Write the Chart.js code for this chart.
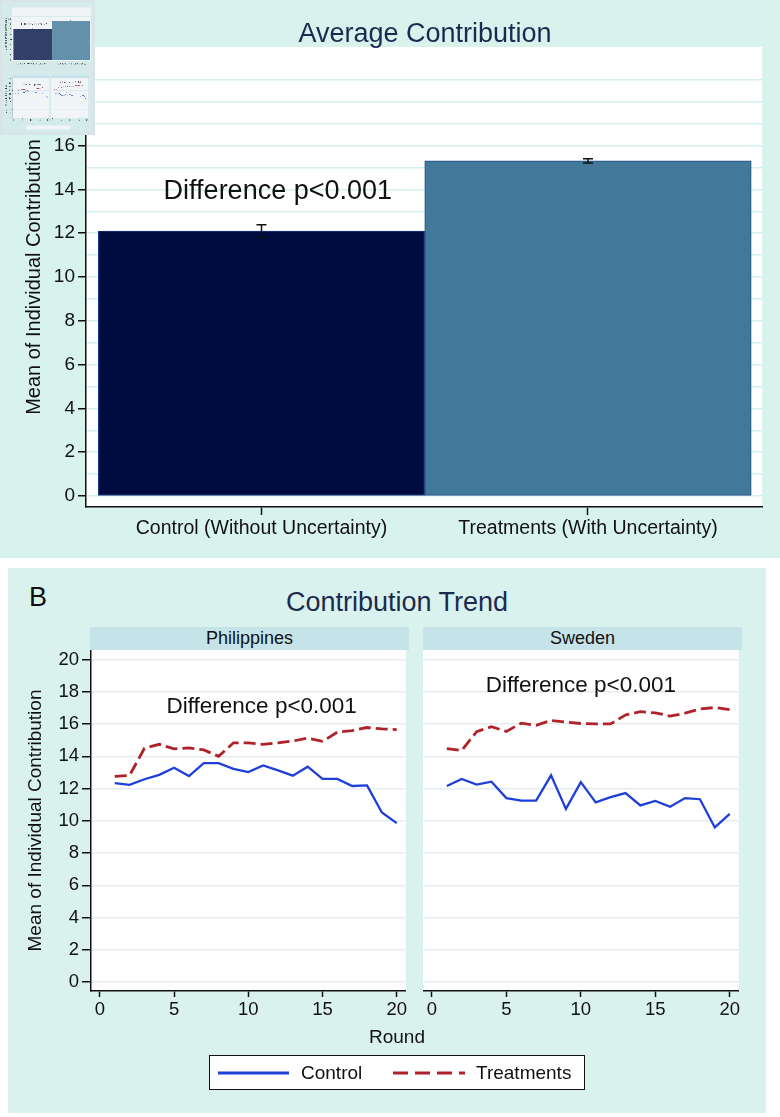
<!DOCTYPE html>
<html>
<head>
<meta charset="utf-8">
<script src="https://cdn.jsdelivr.net/npm/chart.js@4.4.1/dist/chart.umd.min.js"></script>
<style>
  body { margin: 0; width: 780px; height: 1117px; background: #fff; position: relative; overflow: hidden;
         font-family: "Liberation Sans", Arial, sans-serif; color: #111; }
  .abs { position: absolute; }
  .txt { position: absolute; line-height: 1; white-space: nowrap; }
  .center { transform: translateX(-50%); }
  #panelA { left: 0; top: 0; width: 780px; height: 558px; background: #d8f2ed; }
  #panelB { left: 8px; top: 568px; width: 758px; height: 545px; background: #d9f2ee; }
  .head { position: absolute; top: 627px; height: 23px; line-height: 23px; background: #c5e3e8;
          text-align: center; font-size: 18px; color: #111; }
  #legend { left: 209px; top: 1055px; width: 376px; height: 35px; box-sizing: border-box;
            border: 1.5px solid #111; background: #fff; }
</style>
</head>
<body>
<div id="panelA" class="abs"></div>
<div id="panelB" class="abs"></div>

<canvas id="chartA" class="abs" width="780" height="558" style="left:0;top:0"></canvas>
<canvas id="chartPh" class="abs" width="409" height="410" style="left:0;top:620px"></canvas>
<canvas id="chartSe" class="abs" width="319" height="410" style="left:423px;top:620px"></canvas>
<canvas id="thumb" class="abs" width="95" height="135" style="left:0;top:0"></canvas>

<div class="txt center" style="left:425px;top:20px;font-size:27px;color:#1c2a4f">Average Contribution</div>
<div class="txt" style="left:29px;top:584px;font-size:27px">B</div>
<div class="txt center" style="left:397px;top:589px;font-size:27px;color:#1c2a4f">Contribution Trend</div>
<div class="head" style="left:90px;width:319px">Philippines</div>
<div class="head" style="left:423px;width:319px">Sweden</div>
<div class="txt center" style="left:397px;top:1027px;font-size:19px">Round</div>

<div id="legend" class="abs"></div>
<svg class="abs" style="left:209px;top:1055px" width="376" height="35">
  <line x1="9" y1="18" x2="80" y2="18" stroke="#1f3fd8" stroke-width="3"/>
  <line x1="184" y1="18" x2="256" y2="18" stroke="#b0222a" stroke-width="3" stroke-dasharray="15,7"/>
</svg>
<div class="txt" style="left:301px;top:1063px;font-size:19px">Control</div>
<div class="txt" style="left:476px;top:1063px;font-size:19px">Treatments</div>

<script>
/* ─── Data ───────────────────────────────────────────────────────────────── */
const barLabels = ['Control (Without Uncertainty)', 'Treatments (With Uncertainty)'];
const barMeans  = [12.1, 15.3];
const barErrors = [0.28, 0.1];
const barTicksY = [0, 2, 4, 6, 8, 10, 12, 14, 16];
const barGridY  = [0, 1, 2, 3, 4, 5, 6, 7, 8, 9, 10, 11, 12, 13, 14, 15, 16, 17, 18, 19];

const rounds      = [1, 2, 3, 4, 5, 6, 7, 8, 9, 10, 11, 12, 13, 14, 15, 16, 17, 18, 19, 20];
const phControl   = [12.34, 12.23, 12.58, 12.85, 13.29, 12.78, 13.58, 13.58, 13.22, 13.02,
                     13.44, 13.13, 12.80, 13.36, 12.60, 12.60, 12.16, 12.20, 10.52, 9.86];
const phTreat     = [12.76, 12.82, 14.50, 14.75, 14.46, 14.53, 14.40, 14.00, 14.84, 14.84,
                     14.75, 14.84, 14.95, 15.13, 14.93, 15.50, 15.60, 15.79, 15.70, 15.66];
const seControl   = [12.16, 12.60, 12.25, 12.43, 11.41, 11.25, 11.25, 12.82, 10.74, 12.40,
                     11.14, 11.47, 11.72, 10.96, 11.23, 10.87, 11.41, 11.34, 9.59, 10.43];
const seTreat     = [14.48, 14.37, 15.53, 15.84, 15.55, 16.06, 15.92, 16.23, 16.12, 16.04,
                     16.01, 16.01, 16.57, 16.77, 16.70, 16.50, 16.68, 16.94, 17.03, 16.90];
const trendTicksX = [0, 5, 10, 15, 20];
const trendTicksY = [0, 2, 4, 6, 8, 10, 12, 14, 16, 18, 20];

/* ─── Styles ─────────────────────────────────────────────────────────────── */
const FONT    = '"Liberation Sans", Arial, sans-serif';
const INK     = '#111';
const CLEAR   = 'rgba(0,0,0,0)';
const BLUE    = '#1f3fd8';
const RED     = '#b0222a';
Chart.defaults.font.family = FONT;
Chart.defaults.color = INK;

/* ─── Plugins ────────────────────────────────────────────────────────────── */
// white plot region behind grid + marks
const plotBgPlugin = {
  id: 'plotBg',
  beforeDraw(chart) {
    const { ctx, chartArea: a } = chart;
    ctx.save();
    ctx.fillStyle = '#fff';
    ctx.fillRect(a.left, a.top, a.right - a.left, a.bottom - a.top);
    ctx.restore();
  }
};

const errorBarPlugin = {
  id: 'errorBars',
  afterDatasetsDraw(chart, args, opts) {
    const { ctx, scales: { x, y } } = chart;
    ctx.save();
    ctx.strokeStyle = INK;
    ctx.lineWidth = 1.5;
    barMeans.forEach((m, i) => {
      const px  = x.getPixelForValue(i + 1);
      const top = y.getPixelForValue(m + barErrors[i]);
      const bot = y.getPixelForValue(m - barErrors[i]);
      ctx.beginPath();
      ctx.moveTo(px, top); ctx.lineTo(px, bot);
      ctx.moveTo(px - opts.cap, top); ctx.lineTo(px + opts.cap, top);
      ctx.moveTo(px - opts.cap, bot); ctx.lineTo(px + opts.cap, bot);
      ctx.stroke();
    });
    ctx.restore();
  }
};

const notePlugin = {
  id: 'note',
  afterDatasetsDraw(chart, args, opts) {
    const { ctx, scales: { x, y } } = chart;
    ctx.save();
    ctx.font = `${opts.size}px ${FONT}`;
    ctx.fillStyle = INK;
    ctx.textAlign = 'center';
    ctx.textBaseline = 'middle';
    ctx.fillText(opts.text, x.getPixelForValue(opts.x), y.getPixelForValue(opts.y));
    ctx.restore();
  }
};

/* ─── Panel A: bar chart ─────────────────────────────────────────────────── */
const isLabelled = v => barTicksY.includes(v);

new Chart(document.getElementById('chartA'), {
  type: 'bar',
  data: {
    datasets: [{
      data: barMeans.map((v, i) => ({ x: i + 1, y: v })),
      backgroundColor: ['#000c40', '#42789a'],
      borderColor:     ['#1b3580', '#2a5a8c'],
      borderWidth: 1.2,
      borderSkipped: false,
      barPercentage: 1,
      categoryPercentage: 1
    }]
  },
  options: {
    responsive: false,
    animation: false,
    layout: { padding: { left: 0, top: 47, right: 18, bottom: 0 } },
    plugins: {
      legend: { display: false },
      tooltip: { enabled: false },
      errorBars: { cap: 5 },
      note: { text: 'Difference p<0.001', x: 1.05, y: 13.9, size: 27 }
    },
    scales: {
      x: {
        type: 'linear', offset: false, min: 0.4625, max: 2.533,
        afterBuildTicks: s => { s.ticks = barLabels.map((_, i) => ({ value: i + 1 })); },
        afterFit: s => { s.height = 51; },
        ticks: { callback: v => barLabels[v - 1], font: { size: 19.5 }, padding: 2,
                 maxRotation: 0, autoSkip: false },
        grid: { drawOnChartArea: false, offset: false, tickLength: 8, tickColor: INK, tickWidth: 1.5 },
        border: { color: INK, width: 1.5 }
      },
      y: {
        min: -0.5, max: 20.5,
        afterBuildTicks: s => { s.ticks = barGridY.map(v => ({ value: v })); },
        afterFit: s => { s.width = 86; },
        ticks: { callback: v => isLabelled(v) ? v : '', font: { size: 19 }, padding: 3, autoSkip: false },
        grid: { color: '#d6f1eb', lineWidth: 1.5, tickLength: 8, tickWidth: 1.5,
                tickColor: c => (c.tick && isLabelled(c.tick.value)) ? INK : CLEAR },
        border: { color: INK, width: 1.5 },
        title: { display: true, text: 'Mean of Individual Contribution', font: { size: 20 },
                 padding: { top: 22, bottom: 0 } }
      }
    }
  },
  plugins: [plotBgPlugin, errorBarPlugin, notePlugin]
});

/* ─── Panel B: trend lines ───────────────────────────────────────────────── */
function trendChart(id, control, treat, note, showY) {
  return new Chart(document.getElementById(id), {
    type: 'line',
    data: {
      datasets: [
        { label: 'Control', data: rounds.map((r, i) => ({ x: r, y: control[i] })),
          borderColor: BLUE, borderWidth: 2.3, pointRadius: 0, tension: 0 },
        { label: 'Treatments', data: rounds.map((r, i) => ({ x: r, y: treat[i] })),
          borderColor: RED, borderWidth: 2.8, borderDash: [12, 5], pointRadius: 0, tension: 0 }
      ]
    },
    options: {
      responsive: false,
      animation: false,
      layout: { padding: { left: 0, top: 30, right: 0, bottom: 0 } },
      plugins: {
        legend: { display: false },
        tooltip: { enabled: false },
        note: Object.assign({ text: 'Difference p<0.001', size: 22.5 }, note)
      },
      scales: {
        x: {
          type: 'linear', min: -0.6, max: 20.6,
          afterBuildTicks: s => { s.ticks = trendTicksX.map(v => ({ value: v })); },
          afterFit: s => { s.height = 39; },
          ticks: { font: { size: 18.5 }, padding: 2, maxRotation: 0, autoSkip: false },
          grid: { drawOnChartArea: false, tickLength: 6, tickColor: INK, tickWidth: 1.5 },
          border: { color: INK, width: 1.5 }
        },
        y: {
          min: -0.56, max: 20.6,
          afterBuildTicks: s => { s.ticks = trendTicksY.map(v => ({ value: v })); },
          afterFit: s => { s.width = showY ? 91 : 0; },
          ticks: { display: showY, font: { size: 18.5 }, padding: 3, autoSkip: false },
          grid: { color: '#e4ecee', lineWidth: 1.5, drawTicks: showY, tickLength: 9,
                  tickColor: INK, tickWidth: 1.5 },
          border: { display: showY, color: INK, width: 1.5 },
          title: { display: showY, text: 'Mean of Individual Contribution', font: { size: 19 },
                   padding: { top: 24, bottom: 0 } }
        }
      }
    },
    plugins: [plotBgPlugin, notePlugin]
  });
}

trendChart('chartPh', phControl, phTreat, { x: 10.9, y: 17.1 }, true);
trendChart('chartSe', seControl, seTreat, { x: 10.0, y: 18.4 }, false);

/* ─── Thumbnail inset (scaled copy of the figure) ────────────────────────── */
const th = document.getElementById('thumb').getContext('2d');
th.fillStyle = '#dfe8ec';
th.fillRect(0, 0, 95, 135);
th.setTransform(0.117, 0, 0, 0.117, 2, 2);
th.fillStyle = '#d8f2ed'; th.fillRect(0, 0, 780, 558);
th.fillStyle = '#d9f2ee'; th.fillRect(8, 568, 758, 545);
th.fillStyle = '#c5e3e8'; th.fillRect(90, 627, 319, 23); th.fillRect(423, 627, 319, 23);
th.drawImage(document.getElementById('chartA'), 0, 0);
th.drawImage(document.getElementById('chartPh'), 0, 620);
th.drawImage(document.getElementById('chartSe'), 423, 620);
th.fillStyle = '#fff'; th.fillRect(209, 1055, 376, 35);
th.setTransform(1, 0, 0, 1, 0, 0);
th.fillStyle = 'rgba(200,214,222,0.25)';
th.fillRect(0, 0, 95, 135);
</script>
</body>
</html>
